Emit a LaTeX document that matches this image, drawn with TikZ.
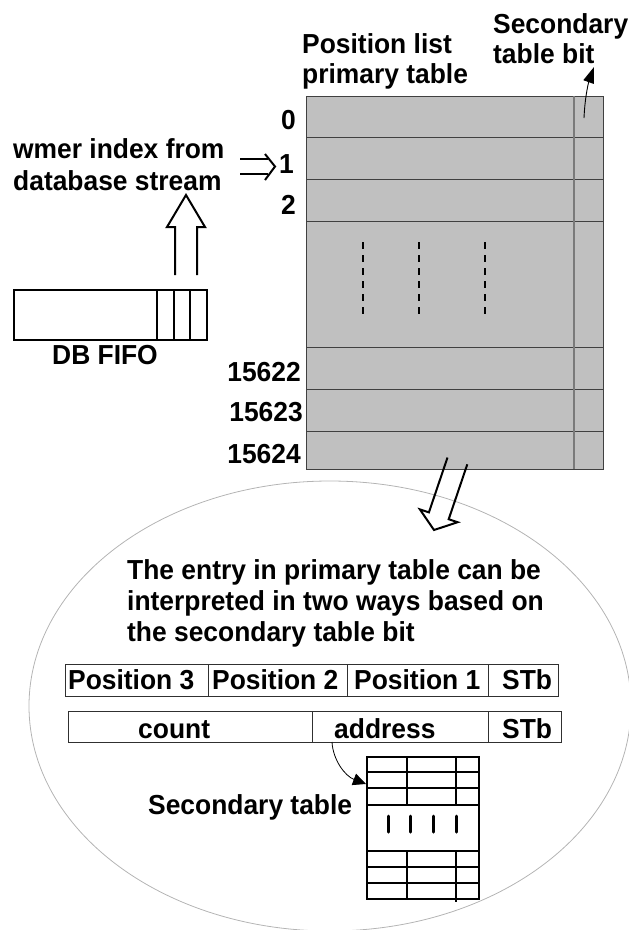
\documentclass[tikz,border=0pt]{standalone}
\usepackage{fontspec}
\setmainfont{Liberation Sans}[FakeStretch=0.96]
\usetikzlibrary{arrows.meta}
\definecolor{tablefill}{HTML}{C0C0C0}
\definecolor{rowrule}{HTML}{404040}
\definecolor{bitrule}{HTML}{7A7A7A}
\definecolor{bubble}{HTML}{B4B4B4}
\definecolor{cellrule}{HTML}{303030}
\tikzset{
  lbl/.style={inner sep=0pt, font=\fontsize{27.5}{31}\selectfont\bfseries},
  blockarrow/.style={line width=2pt, line join=miter},
  cell/.style={draw=cellrule, line width=0.9pt, inner sep=0pt, anchor=north west},
  thick grid/.style={line width=2pt},
}
\begin{document}
\begin{tikzpicture}[x=1pt,y=-1pt]
\useasboundingbox (0,0) rectangle (629,930);

% magnified view of one entry
\draw[bubble, line width=0.8pt] (330,706) ellipse [x radius=301, y radius=225];

% position list primary table
\node[draw=rowrule, fill=tablefill, line width=0.9pt, inner sep=0pt,
      minimum width=297pt, minimum height=373pt, anchor=north west] (prim) at (306,96) {};
\foreach \y in {137,179,221,347,389,431}
  \draw[rowrule, line width=0.8pt] (306,\y) -- (603,\y);
\draw[bitrule, line width=1.3pt] (574,96) -- (574,469);
\foreach \x in {363,419,485}
  \draw[line width=1.5pt, dash pattern=on 7pt off 6pt] (\x,242) -- (\x,318);

% row indices
\node[lbl, anchor=base east] (r0) at (296,129) {0};
\node[lbl, anchor=base east] (r1) at (294,173) {1};
\node[lbl, anchor=base east] (r2) at (296,214) {2};
\node[lbl, anchor=base east] (r15622) at (301,381) {15622};
\node[lbl, anchor=base east] (r15623) at (303,421) {15623};
\node[lbl, anchor=base east] (r15624) at (301,463) {15624};

% headings
\node[lbl, anchor=base west] (hd1) at (302,53) {Position list};
\node[lbl, anchor=base west] (hd2) at (302,83) {primary table};
\node[lbl, anchor=base west] (sb1) at (493,33) {Secondary};
\node[lbl, anchor=base west] (sb2) at (493,63) {table bit};
\coordinate (bitfoot) at (584,118);
\coordinate (bittip) at (594,67);
\draw[line width=0.9pt, -{Triangle[length=16pt,width=11pt]}]
  (bitfoot) .. controls (585,95) and (589,81) .. (bittip);

% incoming index
\node[lbl, anchor=base west] (wm1) at (13,158) {wmer index from};
\node[lbl, anchor=base west] (wm2) at (13,190) {database stream};
\draw[blockarrow] (240,159) -- (268,159) (240,174) -- (268,174);
\draw[blockarrow] (265,154) -- (275,166.5) -- (265,180);

% DB FIFO
\node[draw, line width=2pt, inner sep=0pt, minimum width=193pt, minimum height=50pt,
      anchor=north west] (fifo) at (13,289) {};
\foreach \x in {157,173.5,190}
  \draw[line width=2pt] (\x,289) -- (\x,339);
\node[lbl, anchor=base west] (fifolbl) at (52,364) {DB FIFO};
\draw[blockarrow] (175,275) -- (175,227) -- (167,227) -- (186,195)
  -- (205,227) -- (197,227) -- (197,275);

% hollow arrow from the table into the magnified view
\draw[blockarrow] (447.5,457.5) -- (428.9,512.4) -- (419.9,509.4) -- (434,530)
  -- (457.7,522.2) -- (448.7,519.2) -- (467.3,464.3);

% explanation
\node[lbl, anchor=base west] (ex1) at (127,579) {The entry in primary table can be};
\node[lbl, anchor=base west] (ex2) at (127,610) {interpreted in two ways based on};
\node[lbl, anchor=base west] (ex3) at (127,641) {the secondary table bit};

% entry layout: three positions
\node[cell, minimum width=143pt, minimum height=32pt] (p3) at (65,664) {};
\node[cell, minimum width=139pt, minimum height=32pt] (p2) at (208,664) {};
\node[cell, minimum width=141pt, minimum height=32pt] (p1) at (347,664) {};
\node[cell, minimum width=70pt, minimum height=32pt] (stb1) at (488,664) {};
\node[lbl, anchor=base west] at (68,689) {Position 3};
\node[lbl, anchor=base west] at (212,689) {Position 2};
\node[lbl, anchor=base west] at (354,689) {Position 1};
\node[lbl, anchor=base west] at (502,689) {STb};

% entry layout: count and address
\node[cell, minimum width=244pt, minimum height=31pt] (cnt) at (68,711) {};
\node[cell, minimum width=176pt, minimum height=31pt] (addr) at (312,711) {};
\node[cell, minimum width=73pt, minimum height=31pt] (stb2) at (488,711) {};
\node[lbl, anchor=base west] at (138,738) {count};
\node[lbl, anchor=base west] (addrlbl) at (334,738) {address};
\node[lbl, anchor=base west] at (502,738) {STb};

% secondary table
\node[draw, line width=2pt, inner sep=0pt, minimum width=112pt, minimum height=142pt,
      anchor=north west] (sec) at (366,756) {};
\foreach \y in {772,788,805,851,867,883}
  \draw[thick grid] (366,\y) -- (478,\y);
\foreach \x in {407,456} {
  \draw[thick grid] (\x,756) -- (\x,805);
  \draw[thick grid] (\x,851) -- (\x,898);
}
\draw[thick grid] (456,898) -- (456,902);
\foreach \x in {388,410,433,456}
  \draw[line width=3pt, line cap=round] (\x,816) -- (\x,832);
\node[lbl, anchor=base west] (seclbl) at (148,814) {Secondary table};
\coordinate (addrfoot) at (332,742);
\coordinate (sectip) at (366,784);
\draw[line width=0.8pt, -{Triangle[length=13pt,width=12pt]}]
  (addrfoot) .. controls (333,760) and (345,776) .. (sectip);
\end{tikzpicture}
\end{document}
